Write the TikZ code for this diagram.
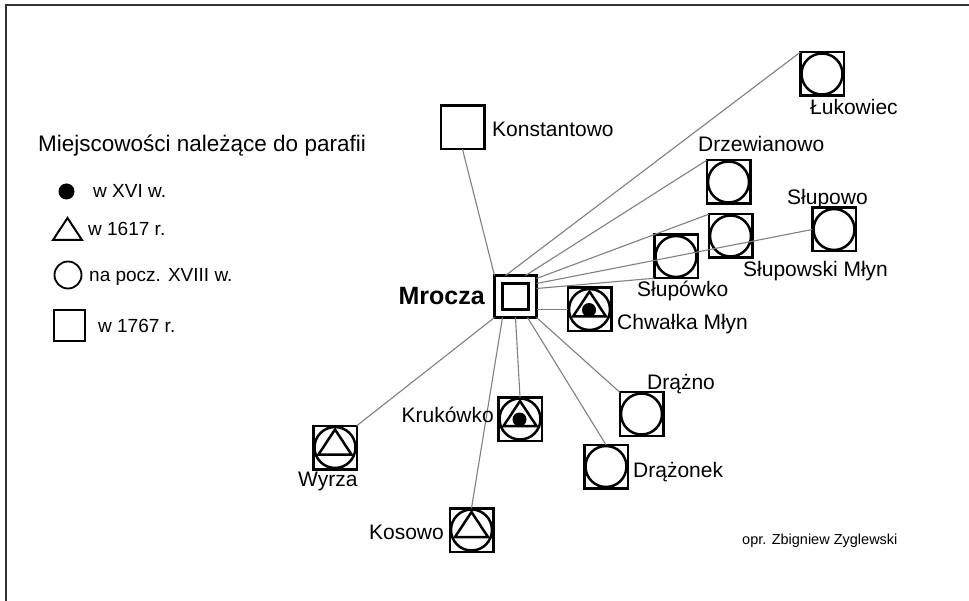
\documentclass[tikz,border=0pt]{standalone}
\usepackage{fontspec}
\setmainfont{Liberation Sans}
\usetikzlibrary{calc}
\begin{document}
\begin{tikzpicture}[x=1pt,y=-1pt,
  sq/.style={draw=black, line width=2.5pt, minimum size=43.5pt, inner sep=0pt, outer sep=0pt},
  link/.style={draw=black!50, line width=1.1pt},
  symline/.style={draw=black, line width=2.5pt},
  lbl/.style={inner sep=0pt, anchor=base west, font=\fontsize{21}{25}\selectfont},
  lgd/.style={inner sep=0pt, anchor=base west, font=\fontsize{19}{22}\selectfont},
  circ/.pic={\draw[symline] (0,0) circle[radius=20.5pt];},
  tri/.pic={\draw[symline, line join=miter] (0,-18) -- (16.5,7) -- (-16.5,7) -- cycle;},
  dotsym/.pic={\fill[black] (-0.5,0.5) circle[radius=7pt];}
]
\useasboundingbox (0,0) rectangle (969,601);
\fill[white] (0,0) rectangle (969,601);
% frame (cropped)
\draw[black!80, line width=2pt] (5.5,601) -- (5.5,5) -- (969,5);

% legend
\node[inner sep=0pt, anchor=base west, font=\fontsize{22.5}{26}\selectfont] (ltitle) at (38,152) {Miejscowości należące do parafii};
\fill[black] (66.5,191.5) circle[radius=8pt];
\node[lgd] (l1) at (93,198) {w XVI w.};
\draw[black, line width=2pt, line join=miter] (67.5,218) -- (82,240) -- (53,240) -- cycle;
\node[lgd] (l2) at (88,236) {w 1617 r.};
\draw[black, line width=1.8pt] (68,275) circle[radius=13.5pt];
\node[lgd] (l3) at (89,282) {na pocz. XVIII w.};
\draw[black, line width=2pt] (54,310) rectangle (85,341);
\node[lgd] (l4) at (98,333) {w 1767 r.};

% place nodes
\node[sq, line width=3pt, minimum size=42pt] (mrocza) at (515.5,296.5) {};
\node[draw=black, line width=3pt, minimum size=26pt, inner sep=0pt] (mroczain) at (mrocza.center) {};
\node[sq] (konst) at (462.5,127.5) {};
\node[sq] (luk) at (822,74) {};
\node[sq] (drzew) at (728.5,182) {};
\node[sq] (slmlyn) at (730.5,236) {};
\node[sq] (slupowo) at (834,229.5) {};
\node[sq] (slupowko) at (676,256.5) {};
\node[sq] (chwalka) at (589.5,309.5) {};
\node[sq] (kruk) at (520,419) {};
\node[sq] (wyrza) at (335,447.5) {};
\node[sq] (kosowo) at (471.5,530) {};
\node[sq] (drazno) at (641.5,414) {};
\node[sq] (drazonek) at (606,466.5) {};

% symbols
\pic at (luk) {circ};
\pic at (drzew) {circ};
\pic at (slmlyn) {circ};
\pic at (slupowo) {circ};
\pic at (slupowko) {circ};
\pic at (drazno) {circ};
\pic at (drazonek) {circ};
\pic at (chwalka) {circ}; \pic at (chwalka) {tri}; \pic at (chwalka) {dotsym};
\pic at (kruk) {circ}; \pic at (kruk) {tri}; \pic at (kruk) {dotsym};
\pic at (wyrza) {circ}; \pic at (wyrza) {tri};
\pic at (kosowo) {circ}; \pic at (kosowo) {tri};

% connectors
\draw[link] (mrocza.north west) -- (konst.south);
\draw[link] ([xshift=-10pt]mrocza.north) -- (luk.north west);
\draw[link] ([xshift=10pt]mrocza.north) -- (drzew.north west);
\draw[link] ([yshift=18pt]mrocza.east) -- (slmlyn.north west);
\draw[link] ([yshift=13pt]mrocza.east) -- (slupowo.west);
\draw[link] ([yshift=8pt]mrocza.east) -- (slupowko.south west);
\draw[link] (mrocza.east |- chwalka.west) -- (chwalka.west);
\draw[link] (mrocza.south west) -- (wyrza.north east);
\draw[link] ([xshift=-13pt]mrocza.south) -- (kosowo.north);
\draw[link] (mrocza.south) -- (kruk.north);
\draw[link] ([xshift=12pt]mrocza.south) -- (drazonek.north);
\draw[link] (mrocza.south east) -- (drazno.north west);

% labels
\node[inner sep=0pt, anchor=base east, font=\fontsize{25}{29}\selectfont\bfseries] (tmrocza) at (485,305) {Mrocza};
\node[lbl] (tkonst) at (492,137) {Konstantowo};
\node[lbl] (tluk) at (810,115) {Łukowiec};
\node[lbl] (tdrzew) at (698,152) {Drzewianowo};
\node[lbl] (tslupowo) at (787,205) {Słupowo};
\node[lbl] (tslmlyn) at (743,277) {Słupowski Młyn};
\node[lbl] (tslupowko) at (637,297) {Słupówko};
\node[lbl] (tchwalka) at (617,330) {Chwałka Młyn};
\node[lbl, anchor=base east] (tkruk) at (494,422) {Krukówko};
\node[lbl] (twyrza) at (298,486) {Wyrza};
\node[lbl, anchor=base east] (tkosowo) at (444,539) {Kosowo};
\node[lbl] (tdrazno) at (647,390) {Drążno};
\node[lbl] (tdrazonek) at (633,477) {Drążonek};
\node[inner sep=0pt, anchor=base west, font=\fontsize{14.5}{17}\selectfont] (sig) at (742,544) {opr. Zbigniew Zyglewski};
\end{tikzpicture}
\end{document}
